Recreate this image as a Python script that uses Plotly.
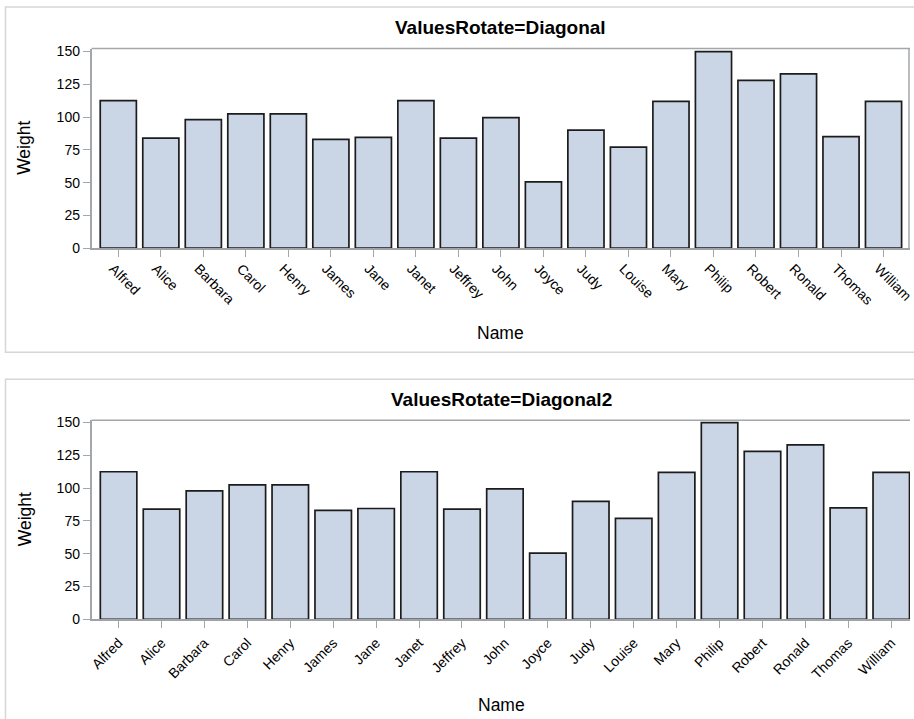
import plotly.graph_objects as go

names = ["Alfred", "Alice", "Barbara", "Carol", "Henry", "James", "Jane", "Janet",
         "Jeffrey", "John", "Joyce", "Judy", "Louise", "Mary", "Philip", "Robert",
         "Ronald", "Thomas", "William"]
weights = [112.5, 84, 98, 102.5, 102.5, 83, 84.5, 112.5, 84, 99.5, 50.5, 90, 77,
           112, 150, 128, 133, 85, 112]
y_ticks = [0, 25, 50, 75, 100, 125, 150]
titles = ["ValuesRotate=Diagonal", "ValuesRotate=Diagonal2"]

W, H = 914, 719
FONT = "Liberation Sans, Arial, sans-serif"
FILL = "#CAD5E5"
EDGE = "#1c1c1c"
AXIS = "#A3A6AA"
PANEL = "#D6D6D6"


def page_x(v):
    # compensate for the small horizontal scaling seen in the photograph
    return (v - 3.5) / 0.992


def page_y(v):
    # compensate for the vertical offset/compression seen in the photograph
    return (v - 6) / 0.98


def px_x(v):
    return page_x(v) / W


def px_y(v):
    return 1 - page_y(v) / H


fig = go.Figure()

# panel geometry (pixels, as measured on the reference)
panels = [
    dict(top=7, bottom=352, plot_top=48.5, plot_bot=248, x0=92, x1=910.5,
         xr=[-0.63, 18.63], yr=[0, 152.3], angle=45, title_y=27, name_y=333,
         shift=-5, standoff=-2, right_frame=True),
    dict(top=379, bottom=760, plot_top=420, plot_bot=619, x0=92, x1=918.5,
         xr=[-0.63, 18.63], yr=[0, 151.8], angle=-45, title_y=399, name_y=705,
         shift=0, standoff=1, right_frame=False),
]

for i, p in enumerate(panels):
    sfx = "" if i == 0 else str(i + 1)
    xa = "x" + sfx
    ya = "y" + sfx
    L = page_x(p["x0"])
    R = page_x(p["x1"])
    r0, r1 = p["xr"]
    if R > W:
        r1 = r0 + (r1 - r0) * (W - L) / (R - L)
        R = W
    fig.add_trace(go.Bar(
        x=names, y=weights, xaxis=xa, yaxis=ya, width=0.85,
        marker=dict(color=FILL, line=dict(color=EDGE, width=1.7)),
        showlegend=False, hoverinfo="x+y",
    ))
    fig.layout["xaxis" + sfx] = dict(
        domain=[L / W, R / W], anchor=ya,
        type="category", range=[r0, r1], tickangle=p["angle"],
        showline=True, linecolor="#9FA3A8", linewidth=2,
        ticks="outside", ticklen=7, tickcolor=AXIS, tickwidth=1,
        ticklabelshift=p["shift"], ticklabelstandoff=p["standoff"],
        showgrid=False, zeroline=False,
        tickfont=dict(family=FONT, size=14, color="#000"),
        fixedrange=True,
    )
    fig.layout["yaxis" + sfx] = dict(
        domain=[px_y(p["plot_bot"]), px_y(p["plot_top"])], anchor=xa,
        range=p["yr"], tickvals=y_ticks,
        showline=True, linecolor=AXIS, linewidth=1.5,
        ticks="outside", ticklen=7, tickcolor=AXIS, tickwidth=1,
        showgrid=False, zeroline=False,
        tickfont=dict(family=FONT, size=14, color="#000"),
        fixedrange=True,
    )
    # plot area frame top and right
    fig.add_shape(type="line", xref="paper", yref="paper",
                  x0=L / W, x1=R / W,
                  y0=px_y(p["plot_top"]), y1=px_y(p["plot_top"]),
                  line=dict(color=AXIS, width=1.5))
    if p["right_frame"]:
        xr_edge = min(R, W - 1) / W
        fig.add_shape(type="line", xref="paper", yref="paper",
                      x0=xr_edge, x1=xr_edge,
                      y0=px_y(p["plot_top"]), y1=px_y(p["plot_bot"]),
                      line=dict(color=AXIS, width=1.5))
    # panel border
    fig.add_shape(type="rect", xref="paper", yref="paper",
                  x0=px_x(6), x1=1.02, y0=px_y(p["bottom"]), y1=px_y(p["top"]),
                  line=dict(color=PANEL, width=1.5), fillcolor="rgba(0,0,0,0)",
                  layer="below")
    cx = px_x((p["x0"] + min(p["x1"], 911)) / 2)
    fig.add_annotation(text="<b>" + titles[i] + "</b>", xref="paper", yref="paper",
                       x=cx, y=px_y(p["title_y"]), showarrow=False,
                       xanchor="center", yanchor="middle",
                       font=dict(family=FONT, size=19, color="#000"))
    fig.add_annotation(text="Name", xref="paper", yref="paper",
                       x=cx, y=px_y(p["name_y"]), showarrow=False,
                       xanchor="center", yanchor="middle",
                       font=dict(family=FONT, size=17.5, color="#000"))
    fig.add_annotation(text="Weight", xref="paper", yref="paper",
                       x=px_x(25), y=px_y((p["plot_top"] + p["plot_bot"]) / 2),
                       showarrow=False, textangle=-90,
                       xanchor="center", yanchor="middle",
                       font=dict(family=FONT, size=17.5, color="#000"))

fig.update_layout(
    width=W, height=H,
    margin=dict(l=0, r=0, t=0, b=0),
    paper_bgcolor="white", plot_bgcolor="white",
    bargap=0.15,
)

fig.write_html(
    "out.html",
    config={"displayModeBar": False},
    post_script="document.body.style.margin='0';document.body.style.overflow='hidden';",
)
